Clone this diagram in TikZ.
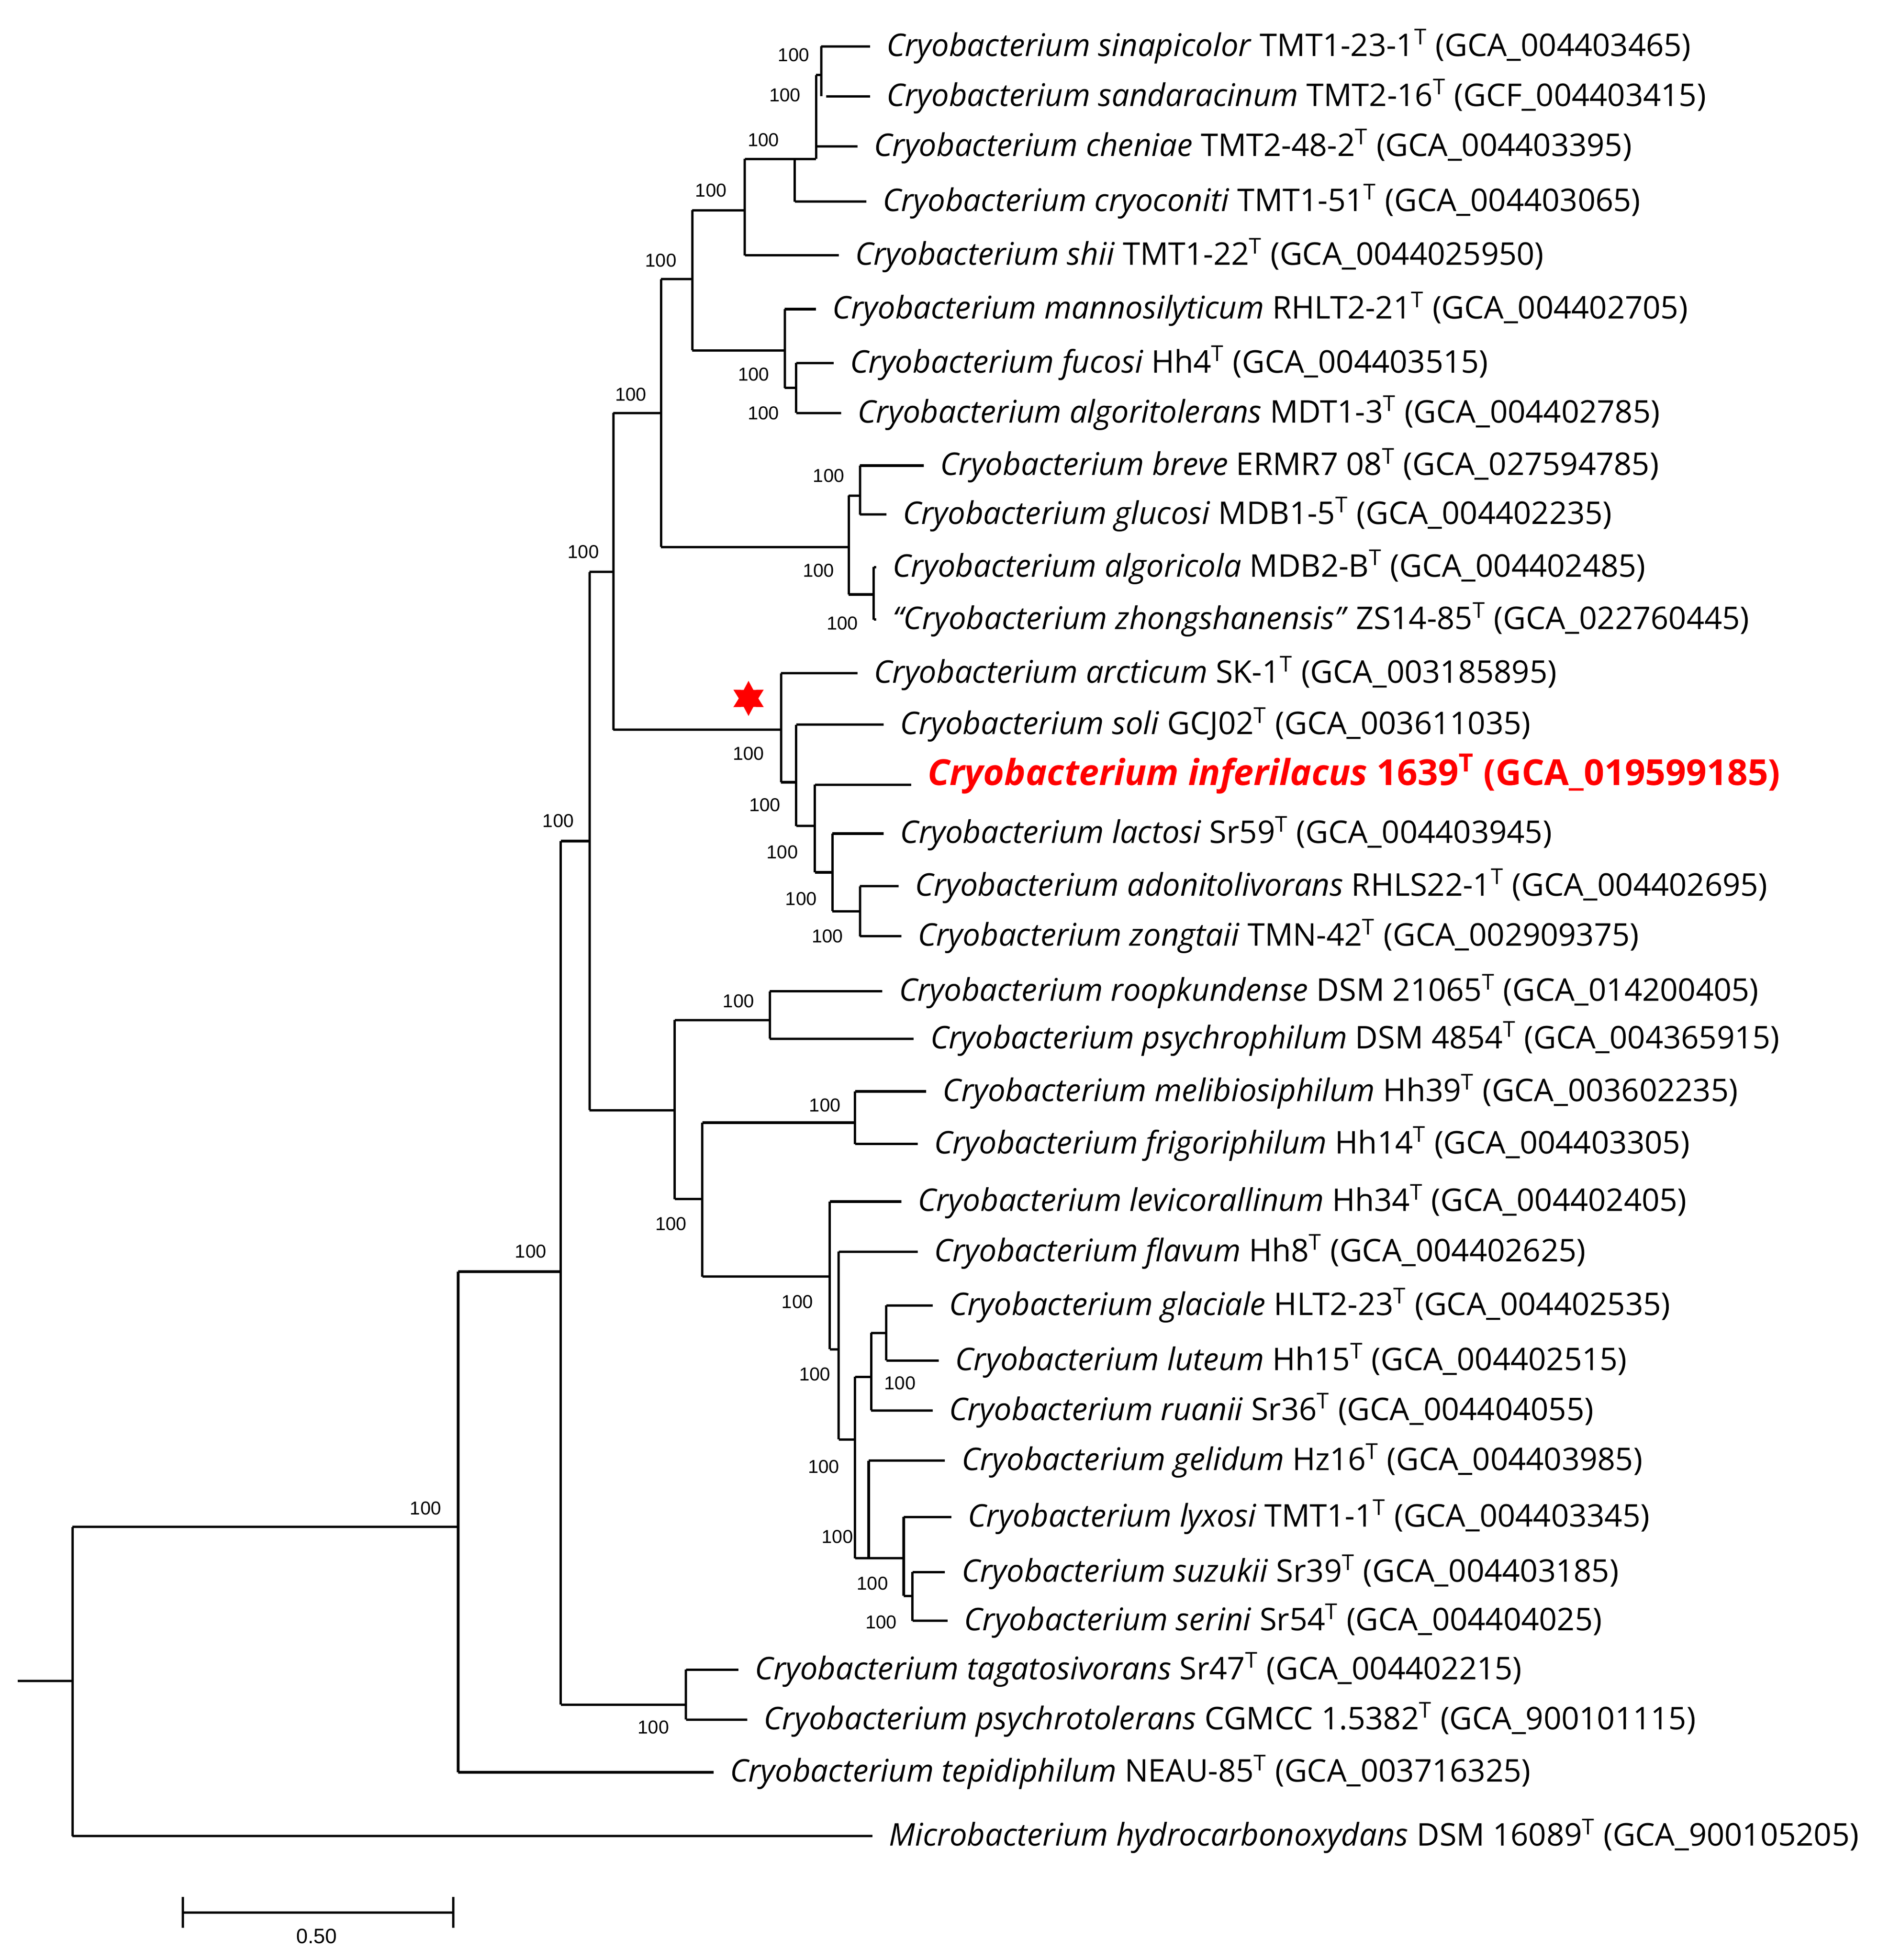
\documentclass[tikz,border=0pt]{standalone}
\usepackage{fontspec}
\setmainfont{Open Sans}
\newfontfamily\bsf{Liberation Sans}
\usetikzlibrary{shapes.geometric}
\newcommand\lf[5]{\draw[br] (#2,-#4) -- (#3,-#4) node[lab,name=#1]{#5};}
\newcommand\vl[3]{\draw[br] (#1,-#2) -- (#1,-#3);}
\newcommand\hl[3]{\draw[br] (#1,-#3) -- (#2,-#3);}
\newcommand\bs[3]{\node[bsl,name=#1] at (#2,-#3) {100};}
\newcommand\tsup{\textsuperscript{T}}
\begin{document}
\begin{tikzpicture}[x=0.02cm,y=0.02cm,
  br/.style={line width=1.1pt},
  lab/.style={anchor=west,inner sep=0pt,xshift=7,font=\fontsize{14.2}{16}\selectfont},
  bsl/.style={font=\bsf\fontsize{8.5}{10}\selectfont,inner sep=0pt}]
\useasboundingbox (0,0) rectangle (1500,-1566);
% leaves
\lf{l1}{656}{695}{37}{\textit{Cryobacterium sinapicolor} TMT1-23-1\tsup{} (GCA\_004403465)}
\lf{l2}{660}{695}{77}{\textit{Cryobacterium sandaracinum} TMT2-16\tsup{} (GCF\_004403415)}
\lf{l3}{652}{685}{117}{\textit{Cryobacterium cheniae} TMT2-48-2\tsup{} (GCA\_004403395)}
\lf{l4}{635}{692}{161}{\textit{Cryobacterium cryoconiti} TMT1-51\tsup{} (GCA\_004403065)}
\lf{l5}{595}{670}{204}{\textit{Cryobacterium shii} TMT1-22\tsup{} (GCA\_0044025950)}
\lf{l6}{627}{652}{247}{\textit{Cryobacterium mannosilyticum} RHLT2-21\tsup{} (GCA\_004402705)}
\lf{l7}{636}{666}{290}{\textit{Cryobacterium fucosi} Hh4\tsup{} (GCA\_004403515)}
\lf{l8}{636}{672}{330}{\textit{Cryobacterium algoritolerans} MDT1-3\tsup{} (GCA\_004402785)}
\lf{l9}{687}{738}{372}{\textit{Cryobacterium breve} ERMR7 08\tsup{} (GCA\_027594785)}
\lf{l10}{687}{708}{411}{\textit{Cryobacterium glucosi} MDB1-5\tsup{} (GCA\_004402235)}
\lf{l11}{698}{700}{453}{\textit{Cryobacterium algoricola} MDB2-B\tsup{} (GCA\_004402485)}
\lf{l12}{698}{700}{495}{\textit{``Cryobacterium zhongshanensis''} ZS14-85\tsup{} (GCA\_022760445)}
\lf{l13}{624}{685}{538}{\textit{Cryobacterium arcticum} SK-1\tsup{} (GCA\_003185895)}
\lf{l14}{636}{706}{579}{\textit{Cryobacterium soli} GCJ02\tsup{} (GCA\_003611035)}
\draw[br] (651,-627) -- (728,-627) node[lab,name=l15,text=red,font=\fontsize{16.3}{19}\selectfont\bfseries,yshift=5]{\textit{Cryobacterium inferilacus} 1639\tsup{} (GCA\_019599185)};
\lf{l16}{665}{706}{666}{\textit{Cryobacterium lactosi} Sr59\tsup{} (GCA\_004403945)}
\lf{l17}{687}{718}{708}{\textit{Cryobacterium adonitolivorans} RHLS22-1\tsup{} (GCA\_004402695)}
\lf{l18}{687}{720}{748}{\textit{Cryobacterium zongtaii} TMN-42\tsup{} (GCA\_002909375)}
\lf{l19}{615}{705}{792}{\textit{Cryobacterium roopkundense} DSM 21065\tsup{} (GCA\_014200405)}
\lf{l20}{615}{730}{830}{\textit{Cryobacterium psychrophilum} DSM 4854\tsup{} (GCA\_004365915)}
\lf{l21}{683}{740}{872}{\textit{Cryobacterium melibiosiphilum} Hh39\tsup{} (GCA\_003602235)}
\lf{l22}{683}{733}{914}{\textit{Cryobacterium frigoriphilum} Hh14\tsup{} (GCA\_004403305)}
\lf{l23}{663}{720}{960}{\textit{Cryobacterium levicorallinum} Hh34\tsup{} (GCA\_004402405)}
\lf{l24}{670}{733}{1000}{\textit{Cryobacterium flavum} Hh8\tsup{} (GCA\_004402625)}
\lf{l25}{708}{745}{1043}{\textit{Cryobacterium glaciale} HLT2-23\tsup{} (GCA\_004402535)}
\lf{l26}{708}{750}{1087}{\textit{Cryobacterium luteum} Hh15\tsup{} (GCA\_004402515)}
\lf{l27}{696}{745}{1127}{\textit{Cryobacterium ruanii} Sr36\tsup{} (GCA\_004404055)}
\lf{l28}{694}{755}{1167}{\textit{Cryobacterium gelidum} Hz16\tsup{} (GCA\_004403985)}
\lf{l29}{722}{760}{1212}{\textit{Cryobacterium lyxosi} TMT1-1\tsup{} (GCA\_004403345)}
\lf{l30}{729}{755}{1256}{\textit{Cryobacterium suzukii} Sr39\tsup{} (GCA\_004403185)}
\lf{l31}{729}{757}{1295}{\textit{Cryobacterium serini} Sr54\tsup{} (GCA\_004404025)}
\lf{l32}{548}{590}{1334}{\textit{Cryobacterium tagatosivorans} Sr47\tsup{} (GCA\_004402215)}
\lf{l33}{548}{597}{1374}{\textit{Cryobacterium psychrotolerans} CGMCC 1.5382\tsup{} (GCA\_900101115)}
\lf{l34}{366}{570}{1416}{\textit{Cryobacterium tepidiphilum} NEAU-85\tsup{} (GCA\_003716325)}
\lf{l35}{58}{697}{1467}{\textit{Microbacterium hydrocarbonoxydans} DSM 16089\tsup{} (GCA\_900105205)}
% internal structure
\hl{14}{58}{1343} \vl{58}{1220}{1467}
\hl{58}{366}{1220} \vl{366}{1016}{1416}
\hl{366}{448}{1016} \vl{448}{672}{1362}
\hl{448}{548}{1362} \vl{548}{1334}{1374}
\hl{448}{471}{672} \vl{471}{457}{887}
\hl{471}{490}{457} \vl{490}{330}{583}
\hl{490}{528}{330} \vl{528}{223}{437}
\hl{528}{553}{223} \vl{553}{168}{280}
\hl{553}{595}{168} \vl{595}{127}{204}
\hl{595}{635}{127} \vl{635}{127}{161}
\hl{635}{652}{127} \vl{652}{60}{127}
\hl{652}{656}{60} \vl{656}{37}{77}
\hl{553}{627}{280} \vl{627}{247}{310}
\hl{627}{636}{310} \vl{636}{290}{330}
\hl{528}{678}{437} \vl{678}{396}{475}
\hl{678}{687}{396} \vl{687}{372}{411}
\hl{678}{698}{475} \vl{698}{453}{495}
\hl{490}{624}{583} \vl{624}{538}{625}
\hl{624}{636}{625} \vl{636}{579}{660}
\hl{636}{651}{660} \vl{651}{627}{697}
\hl{651}{665}{697} \vl{665}{666}{728}
\hl{665}{687}{728} \vl{687}{708}{748}
\hl{471}{539}{887} \vl{539}{815}{958}
\hl{539}{615}{815} \vl{615}{792}{830}
\hl{539}{561}{958} \vl{561}{897}{1020}
\hl{561}{683}{897} \vl{683}{872}{914}
\hl{561}{663}{1020} \vl{663}{960}{1078}
\hl{663}{670}{1078} \vl{670}{1000}{1150}
\hl{670}{683}{1150} \vl{683}{1100}{1245}
\hl{683}{696}{1100} \vl{696}{1065}{1127}
\hl{696}{708}{1065} \vl{708}{1043}{1087}
\hl{683}{694}{1245} \vl{694}{1167}{1245}
\hl{694}{722}{1245} \vl{722}{1212}{1275}
\hl{722}{729}{1275} \vl{729}{1256}{1295}
% bootstrap values
\bs{b1}{634}{44} \bs{b2}{627}{76} \bs{b3}{610}{112} \bs{b4}{568}{152}
\bs{b5}{528}{208} \bs{b6}{504}{315} \bs{b7}{466}{441} \bs{b8}{446}{656}
\bs{b9}{424}{1000} \bs{b10}{340}{1205} \bs{b11}{602}{299} \bs{b12}{610}{330}
\bs{b13}{662}{380} \bs{b14}{654}{456} \bs{b15}{673}{498} \bs{b16}{598}{602}
\bs{b17}{611}{643} \bs{b18}{625}{681} \bs{b19}{640}{718} \bs{b20}{661}{748}
\bs{b21}{590}{800} \bs{b22}{659}{883} \bs{b23}{536}{978} \bs{b24}{637}{1040}
\bs{b25}{651}{1098} \bs{b26}{719}{1105} \bs{b27}{658}{1172} \bs{b28}{669}{1228}
\bs{b29}{697}{1265} \bs{b30}{704}{1296} \bs{b31}{522}{1380}
% star
\node[star,star points=6,star point ratio=1.8,fill=red,inner sep=0pt,minimum size=0.56cm] (st) at (598,-558) {};
% scale bar
\coordinate (s1) at (146,-1528); \coordinate (s2) at (362,-1528);
\draw[br] (s1) -- (s2);
\draw[br] ([yshift=-7]s1) -- ([yshift=7]s1);
\draw[br] ([yshift=-7]s2) -- ([yshift=7]s2);
\node[bsl,font=\bsf\fontsize{9.5}{11}\selectfont] (sl) at (253,-1547) {0.50};
\end{tikzpicture}
\end{document}
